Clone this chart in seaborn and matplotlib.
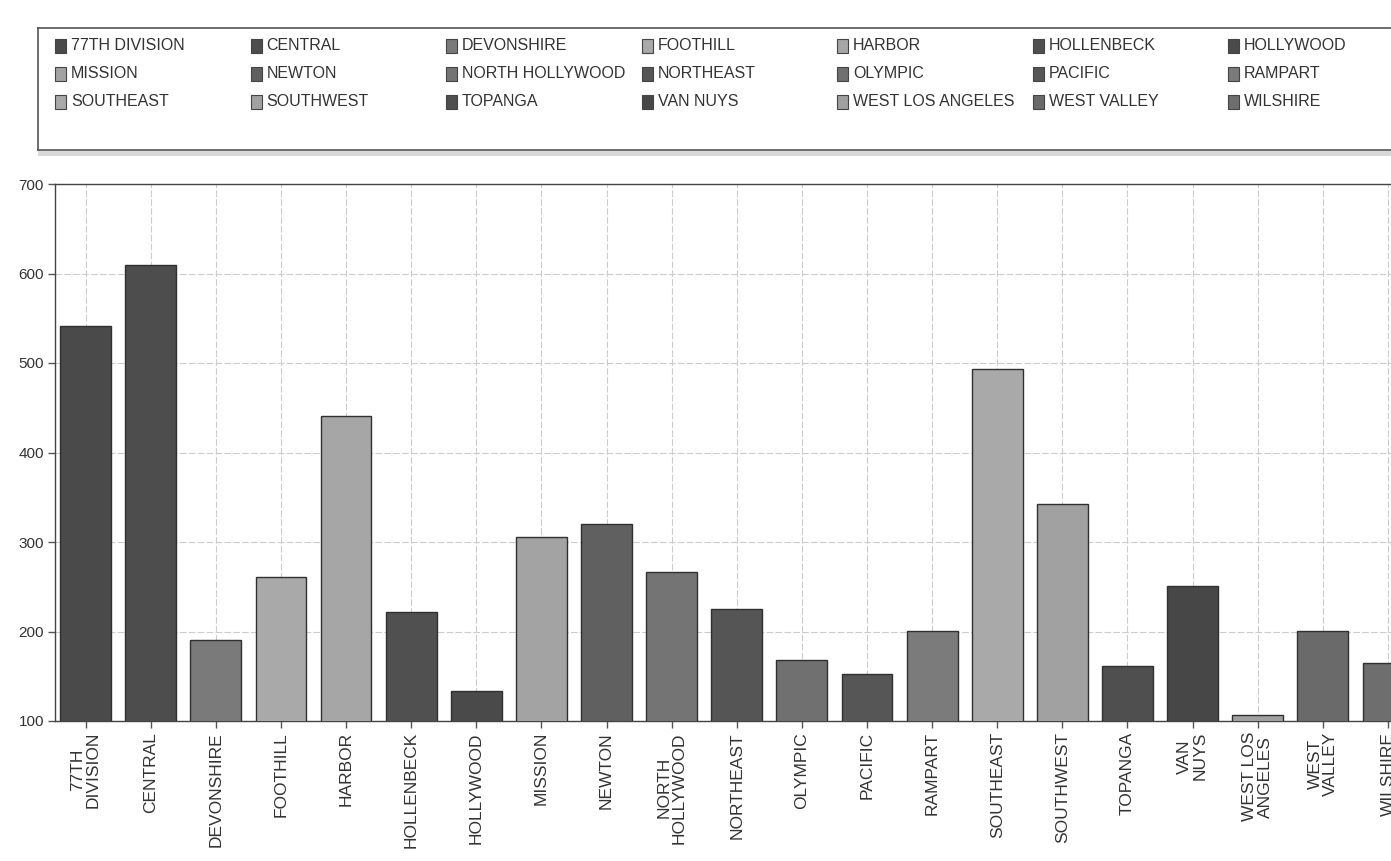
import matplotlib
matplotlib.use("Agg")
import matplotlib.pyplot as plt
import seaborn as sns
import pandas as pd
from matplotlib.patches import Rectangle

# ---- data ----
areas = ["77TH DIVISION", "CENTRAL", "DEVONSHIRE", "FOOTHILL", "HARBOR",
         "HOLLENBECK", "HOLLYWOOD", "MISSION", "NEWTON", "NORTH HOLLYWOOD",
         "NORTHEAST", "OLYMPIC", "PACIFIC", "RAMPART", "SOUTHEAST",
         "SOUTHWEST", "TOPANGA", "VAN NUYS", "WEST LOS ANGELES",
         "WEST VALLEY", "WILSHIRE"]
tick_labels = ["77TH\nDIVISION", "CENTRAL", "DEVONSHIRE", "FOOTHILL", "HARBOR",
               "HOLLENBECK", "HOLLYWOOD", "MISSION", "NEWTON", "NORTH\nHOLLYWOOD",
               "NORTHEAST", "OLYMPIC", "PACIFIC", "RAMPART", "SOUTHEAST",
               "SOUTHWEST", "TOPANGA", "VAN\nNUYS", "WEST LOS\nANGELES",
               "WEST\nVALLEY", "WILSHIRE"]
counts = [541, 610, 190, 261, 441, 222, 133, 306, 320, 266,
          225, 168, 153, 201, 493, 343, 161, 251, 107, 201, 165]
colors = ["#4a4a4a", "#4d4d4d", "#7a7a7a", "#a9a9a9", "#a6a6a6",
          "#505050", "#4a4a4a", "#a3a3a3", "#606060", "#747474",
          "#555555", "#707070", "#565656", "#7b7b7b", "#a9a9a9",
          "#a1a1a1", "#4f4f4f", "#474747", "#a0a0a0", "#6a6a6a", "#6e6e6e"]
y_ticks = [100, 200, 300, 400, 500, 600, 700]

df = pd.DataFrame({"area": areas, "count": counts})

sns.set_theme(style="white")
plt.rcParams["font.family"] = ["Liberation Sans", "DejaVu Sans"]

W, H = 1391, 861
fig = plt.figure(figsize=(W / 100, H / 100), dpi=100)
fig.patch.set_facecolor("white")

# ---- main axes (extends past right edge as in the scan) ----
ax = fig.add_axes([55 / W, 1 - 721 / H, (1427 - 55) / W, (721 - 184) / H])
sns.barplot(data=df, x="area", y="count", hue="area", palette=colors,
            order=areas, hue_order=areas, legend=False, width=0.78,
            edgecolor="#303030", linewidth=1.0, ax=ax, zorder=3)
ax.set_ylim(100, 700)
ax.set_xlim(-0.47, 20.6)
ax.set_yticks(y_ticks)
ax.set_yticklabels([str(v) for v in y_ticks], fontsize=11, color="#333333")
ax.set_xticks(range(len(areas)))
ax.set_xticklabels(tick_labels, rotation=90, fontsize=12.5, color="#333333",
                   ha="center", va="top", multialignment="center",
                   linespacing=1.05)
ax.set_xlabel("")
ax.set_ylabel("")
ax.grid(True, color="#cccccc", linewidth=0.8, linestyle=(0, (6, 2)), zorder=0)
ax.set_axisbelow(True)
ax.tick_params(axis="both", direction="out", length=5, width=1,
               color="#555555", bottom=True, left=True, pad=3)
for side in ["left", "bottom", "top"]:
    ax.spines[side].set_visible(True)
    ax.spines[side].set_color("#444444")
    ax.spines[side].set_linewidth(1.0)
ax.spines["right"].set_visible(False)

# ---- legend box ----
box_l, box_t, box_b = 38, 28, 150
lax = fig.add_axes([box_l / W, 1 - box_b / H, (W + 20 - box_l) / W, (box_b - box_t) / H])
lax.set_xlim(0, W + 20 - box_l)
lax.set_ylim(box_b - box_t, 0)
lax.set_xticks([])
lax.set_yticks([])
for s in lax.spines.values():
    s.set_color("#555555")
    s.set_linewidth(1.2)
lax.set_facecolor("white")

# shadow under legend box
shadow = Rectangle((box_l / W, 1 - (box_b + 6) / H), (W - box_l) / W, 5 / H,
                   transform=fig.transFigure, facecolor="#d9d9d9",
                   edgecolor="none", zorder=0)
fig.patches.append(shadow)

ncol = 7
col0, col_step = 17, 195.5
row0, row_step = 18, 28
for i, (name, c) in enumerate(zip(areas, colors)):
    r, k = divmod(i, ncol)
    x = col0 + k * col_step
    y = row0 + r * row_step
    lax.add_patch(Rectangle((x, y - 7), 11, 14, facecolor=c,
                            edgecolor="#444444", linewidth=0.8))
    lax.text(x + 16, y, name, fontsize=11.5, color="#333333",
             va="center", ha="left")

fig.savefig("out.png", dpi=100, facecolor="white")
